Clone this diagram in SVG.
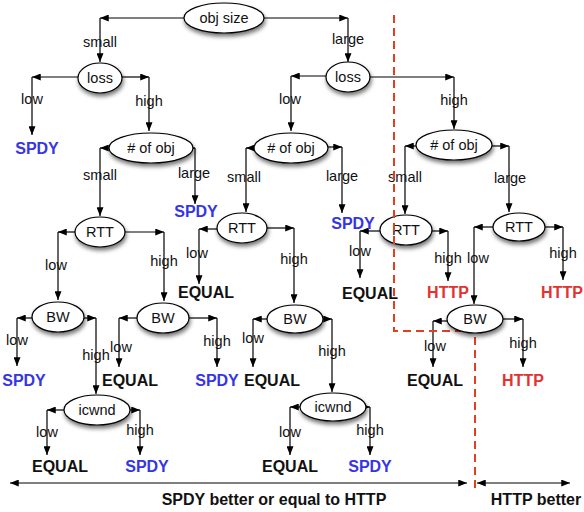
<svg xmlns="http://www.w3.org/2000/svg" width="584" height="512" viewBox="0 0 584 512">
<defs>
<marker id="ah" viewBox="0 0 10 8" refX="10" refY="4" markerWidth="9" markerHeight="7" markerUnits="userSpaceOnUse" orient="auto">
<path d="M0,0 L10,4 L0,8 Z" fill="#000"/>
</marker>
<marker id="ahs" viewBox="0 0 10 8" refX="0" refY="4" markerWidth="9" markerHeight="7" markerUnits="userSpaceOnUse" orient="auto">
<path d="M10,0 L0,4 L10,8 Z" fill="#000"/>
</marker>
<filter id="sh" x="-30%" y="-40%" width="160%" height="190%">
<feDropShadow dx="1" dy="3" stdDeviation="2" flood-color="#000" flood-opacity="0.55"/>
</filter>
</defs>
<style>
.n ellipse{fill:#fff;stroke:#000;stroke-width:1.2;filter:url(#sh)}
.n text{font-family:"Liberation Sans",Arial,sans-serif;font-size:14.5px;fill:#111;text-anchor:middle}
#connectors line{stroke:#000;stroke-width:1.2;marker-end:url(#ah)}
.lb{font-family:"Liberation Sans",Arial,sans-serif;font-size:14.5px;fill:#111;text-anchor:middle}
.o{font-family:"Liberation Sans",Arial,sans-serif;font-size:16px;font-weight:bold;text-anchor:middle}
.s{fill:#3535e6}
.h{fill:#e23232}
.e{fill:#111}
</style>

<g id="connectors">
<line x1="184" y1="18" x2="100" y2="18"/><line x1="100" y1="18" x2="100" y2="62"/>
<line x1="264" y1="18" x2="348" y2="18"/><line x1="348" y1="18" x2="348" y2="62"/>
<line x1="78" y1="77" x2="32" y2="77"/><line x1="32" y1="77" x2="32" y2="135"/>
<line x1="122" y1="77" x2="149" y2="77"/><line x1="149" y1="77" x2="149" y2="131"/>
<line x1="109" y1="148" x2="100" y2="148"/><line x1="100" y1="148" x2="100" y2="216"/>
<line x1="190" y1="148" x2="195" y2="148"/><line x1="195" y1="148" x2="195" y2="204"/>
<line x1="75" y1="232" x2="58" y2="232"/><line x1="58" y1="232" x2="58" y2="300"/>
<line x1="125" y1="232" x2="164" y2="232"/><line x1="164" y1="232" x2="164" y2="301"/>
<line x1="32" y1="318" x2="17" y2="318"/><line x1="17" y1="318" x2="17" y2="366"/>
<line x1="84" y1="318" x2="96" y2="318"/><line x1="96" y1="318" x2="96" y2="394"/>
<line x1="64" y1="410" x2="47" y2="410"/><line x1="47" y1="410" x2="47" y2="455"/>
<line x1="130" y1="410" x2="140" y2="410"/><line x1="140" y1="410" x2="140" y2="455"/>
<line x1="137" y1="318" x2="119" y2="318"/><line x1="119" y1="318" x2="119" y2="367"/>
<line x1="189" y1="318" x2="217" y2="318"/><line x1="217" y1="318" x2="217" y2="367"/>
<line x1="326" y1="76" x2="291" y2="76"/><line x1="291" y1="76" x2="291" y2="131"/>
<line x1="370" y1="77" x2="454" y2="77"/><line x1="454" y1="77" x2="454" y2="129"/>
<line x1="254" y1="148" x2="246" y2="148"/><line x1="246" y1="148" x2="246" y2="212"/>
<line x1="328" y1="147" x2="342" y2="147"/><line x1="342" y1="147" x2="342" y2="213"/>
<line x1="217" y1="229" x2="199" y2="229"/><line x1="199" y1="229" x2="199" y2="284"/>
<line x1="267" y1="228" x2="294" y2="228"/><line x1="294" y1="228" x2="294" y2="303"/>
<line x1="267" y1="319" x2="253" y2="319"/><line x1="253" y1="319" x2="253" y2="367"/>
<line x1="323" y1="319" x2="332" y2="319"/><line x1="332" y1="319" x2="332" y2="392"/>
<line x1="300" y1="407" x2="290" y2="407"/><line x1="290" y1="407" x2="290" y2="455"/>
<line x1="366" y1="407" x2="370" y2="407"/><line x1="370" y1="407" x2="370" y2="455"/>
<line x1="416" y1="146" x2="405" y2="146"/><line x1="405" y1="146" x2="405" y2="214"/>
<line x1="492" y1="146" x2="509" y2="146"/><line x1="509" y1="146" x2="509" y2="212"/>
<line x1="380" y1="231" x2="360" y2="231"/><line x1="360" y1="231" x2="360" y2="278"/>
<line x1="427" y1="231" x2="448" y2="231"/><line x1="448" y1="231" x2="448" y2="281"/>
<line x1="493" y1="227" x2="474" y2="227"/><line x1="474" y1="227" x2="474" y2="304"/>
<line x1="545" y1="227" x2="563" y2="227"/><line x1="563" y1="227" x2="563" y2="280"/>
<line x1="447" y1="321" x2="433" y2="321"/><line x1="433" y1="321" x2="433" y2="367"/>
<line x1="503" y1="319" x2="523" y2="319"/><line x1="523" y1="319" x2="523" y2="367"/>
<line x1="10" y1="483" x2="467" y2="483" style="marker-start:url(#ahs)"/>
<line x1="477" y1="483" x2="570" y2="483" style="marker-start:url(#ahs)"/>
</g>

<g id="labels">
<text class="lb" x="100" y="47">small</text>
<text class="lb" x="348" y="44">large</text>
<text class="lb" x="32" y="104">low</text>
<text class="lb" x="149" y="106">high</text>
<text class="lb" x="100" y="180">small</text>
<text class="lb" x="194" y="178">large</text>
<text class="lb" x="56" y="270">low</text>
<text class="lb" x="164" y="266">high</text>
<text class="lb" x="17" y="345">low</text>
<text class="lb" x="96" y="360">high</text>
<text class="lb" x="47" y="437">low</text>
<text class="lb" x="140" y="435">high</text>
<text class="lb" x="121" y="352">low</text>
<text class="lb" x="217" y="346">high</text>
<text class="lb" x="290" y="104">low</text>
<text class="lb" x="454" y="105">high</text>
<text class="lb" x="244" y="182">small</text>
<text class="lb" x="342" y="181">large</text>
<text class="lb" x="197" y="258">low</text>
<text class="lb" x="294" y="264">high</text>
<text class="lb" x="253" y="343">low</text>
<text class="lb" x="332" y="356">high</text>
<text class="lb" x="290" y="437">low</text>
<text class="lb" x="370" y="435">high</text>
<text class="lb" x="405" y="182">small</text>
<text class="lb" x="510" y="183">large</text>
<text class="lb" x="360" y="256">low</text>
<text class="lb" x="448" y="263">high</text>
<text class="lb" x="478" y="263">low</text>
<text class="lb" x="563" y="258">high</text>
<text class="lb" x="435" y="351">low</text>
<text class="lb" x="523" y="348">high</text>
</g>

<g id="outcomes">
<text class="o s" x="37" y="154">SPDY</text>
<text class="o s" x="196" y="217">SPDY</text>
<text class="o s" x="24" y="386">SPDY</text>
<text class="o e" x="60" y="472">EQUAL</text>
<text class="o s" x="147" y="472">SPDY</text>
<text class="o e" x="130" y="386">EQUAL</text>
<text class="o s" x="217" y="386">SPDY</text>
<text class="o s" x="353" y="229">SPDY</text>
<text class="o e" x="206" y="298">EQUAL</text>
<text class="o e" x="272" y="386">EQUAL</text>
<text class="o e" x="290" y="472">EQUAL</text>
<text class="o s" x="370" y="472">SPDY</text>
<text class="o e" x="370" y="299">EQUAL</text>
<text class="o h" x="448" y="298">HTTP</text>
<text class="o h" x="562" y="298">HTTP</text>
<text class="o e" x="435" y="386">EQUAL</text>
<text class="o h" x="523" y="386">HTTP</text>
<text class="o e" x="274" y="505">SPDY better or equal to HTTP</text>
<text class="o e" x="536" y="505">HTTP better</text>
</g>

<g id="n-objsize" class="n"><ellipse cx="224" cy="18" rx="40" ry="15"/><text x="224" y="23">obj size</text></g>
<g id="n-loss1" class="n"><ellipse cx="100" cy="78" rx="22" ry="15"/><text x="100" y="83">loss</text></g>
<g id="n-loss2" class="n"><ellipse cx="348" cy="77" rx="22" ry="15"/><text x="348" y="82">loss</text></g>
<g id="n-nobj1" class="n"><ellipse cx="151" cy="148" rx="42" ry="15"/><text x="151" y="153"># of obj</text></g>
<g id="n-nobj2" class="n"><ellipse cx="291" cy="148" rx="37" ry="15"/><text x="291" y="153"># of obj</text></g>
<g id="n-nobj3" class="n"><ellipse cx="454" cy="145" rx="38" ry="15"/><text x="454" y="150"># of obj</text></g>
<g id="n-rtt1" class="n"><ellipse cx="100" cy="232" rx="25" ry="15"/><text x="100" y="237">RTT</text></g>
<g id="n-rtt2" class="n"><ellipse cx="242" cy="228" rx="25" ry="15"/><text x="242" y="233">RTT</text></g>
<g id="n-rtt3" class="n"><ellipse cx="406" cy="230" rx="26" ry="15"/><text x="406" y="235">RTT</text></g>
<g id="n-rtt4" class="n"><ellipse cx="519" cy="227" rx="26" ry="14"/><text x="519" y="232">RTT</text></g>
<g id="n-bw1" class="n"><ellipse cx="58" cy="317" rx="26" ry="15"/><text x="58" y="322">BW</text></g>
<g id="n-bw2" class="n"><ellipse cx="163" cy="318" rx="26" ry="15"/><text x="163" y="323">BW</text></g>
<g id="n-bw3" class="n"><ellipse cx="295" cy="319" rx="28" ry="14"/><text x="295" y="324">BW</text></g>
<g id="n-icwnd1" class="n"><ellipse cx="97" cy="410" rx="33" ry="15"/><text x="97" y="415">icwnd</text></g>
<g id="n-icwnd2" class="n"><ellipse cx="333" cy="407" rx="33" ry="14"/><text x="333" y="412">icwnd</text></g>

<g id="divider"><path d="M394,15 V331 H475 V488" fill="none" stroke="#e0401f" stroke-width="2" stroke-dasharray="8,5"/></g>

<g id="n-bw4" class="n"><ellipse cx="475" cy="319" rx="28" ry="14"/><text x="475" y="324">BW</text></g>
</svg>
